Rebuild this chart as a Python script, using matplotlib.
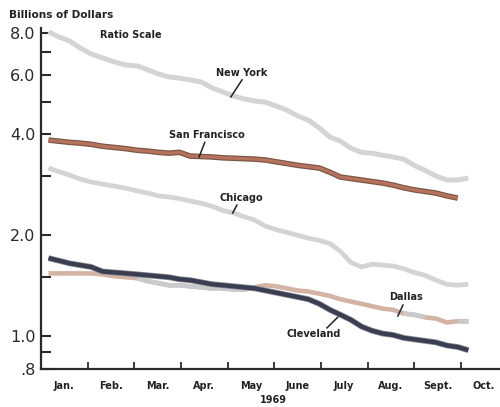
import numpy as np
import pandas as pd
import matplotlib
matplotlib.use("Agg")
import matplotlib.pyplot as plt
from matplotlib.ticker import FixedLocator, FixedFormatter, NullLocator

# weekly reporting dates, 1969
weeks = pd.date_range("1969-01-06", periods=40, freq="7D")

# billions of dollars, one value per week
new_york = [8.06, 7.78, 7.57, 7.22, 6.93, 6.74, 6.56, 6.42, 6.38, 6.21,
            6.04, 5.92, 5.87, 5.80, 5.72, 5.49, 5.34, 5.19, 5.09, 5.02,
            4.98, 4.85, 4.72, 4.53, 4.40, 4.17, 3.92, 3.81, 3.63, 3.53,
            3.51, 3.46, 3.42, 3.37, 3.23, 3.12, 3.00, 2.92, 2.92, 2.96]
san_francisco = [3.84, 3.81, 3.78, 3.76, 3.73, 3.68, 3.65, 3.62, 3.58, 3.56,
                 3.53, 3.51, 3.53, 3.44, 3.43, 3.42, 3.40, 3.39, 3.38, 3.37,
                 3.35, 3.31, 3.27, 3.23, 3.20, 3.17, 3.08, 2.98, 2.95, 2.92,
                 2.89, 2.86, 2.82, 2.77, 2.73, 2.70, 2.67, 2.62, 2.58]
chicago = [3.17, 3.09, 3.02, 2.94, 2.88, 2.84, 2.80, 2.76, 2.71, 2.67,
           2.62, 2.60, 2.57, 2.53, 2.49, 2.44, 2.37, 2.33, 2.27, 2.22,
           2.13, 2.08, 2.04, 2.00, 1.96, 1.93, 1.89, 1.79, 1.66, 1.61,
           1.64, 1.63, 1.62, 1.59, 1.55, 1.52, 1.47, 1.43, 1.42, 1.43]
cleveland = [1.71, 1.68, 1.65, 1.63, 1.61, 1.56, 1.55, 1.54, 1.53, 1.52,
             1.51, 1.50, 1.48, 1.47, 1.45, 1.43, 1.42, 1.41, 1.40, 1.39,
             1.37, 1.35, 1.33, 1.31, 1.29, 1.25, 1.20, 1.16, 1.12, 1.07,
             1.04, 1.02, 1.01, 0.99, 0.98, 0.97, 0.96, 0.94, 0.93, 0.91]
dallas = [1.54, 1.54, 1.54, 1.54, 1.54, 1.53, 1.51, 1.50, 1.49, 1.46,
          1.44, 1.42, 1.42, 1.41, 1.40, 1.39, 1.39, 1.38, 1.38, 1.40,
          1.42, 1.41, 1.39, 1.37, 1.36, 1.34, 1.32, 1.29, 1.27, 1.25,
          1.23, 1.21, 1.20, 1.17, 1.16, 1.14, 1.13, 1.10, 1.11, 1.11]

months = ["Jan.", "Feb.", "Mar.", "Apr.", "May", "June", "July", "Aug.",
          "Sept.", "Oct."]
y_ticks = [0.8, 0.9, 1.0, 1.5, 2.0, 3.0, 4.0, 5.0, 6.0, 7.0, 8.0]
y_tick_labels = [".8", "", "1.0", "", "2.0", "", "4.0", "", "6.0", "", "8.0"]

# position along the axis, in months from Jan. 1
xpos = np.asarray((weeks.month - 1) + (weeks.day - 1) / weeks.days_in_month,
                  dtype=float)

LABEL_FONT = dict(family=["DejaVu Sans"], fontweight="bold", fontsize=7,
                  color="#222222")
LINE = dict(solid_capstyle="butt", solid_joinstyle="round")

fig = plt.figure(figsize=(5, 4.07), dpi=100)
ax = fig.add_axes([0.082, 0.0934, 0.918, 0.838])
ax.set_yscale("log")
ax.set_xlim(0, 9.84)
ax.set_ylim(0.8, 8.28)

for side in ("top", "right"):
    ax.spines[side].set_visible(False)
for side in ("left", "bottom"):
    ax.spines[side].set_linewidth(1.6)
    ax.spines[side].set_color("#2a2a2a")

ax.yaxis.set_major_locator(FixedLocator(y_ticks))
ax.yaxis.set_major_formatter(FixedFormatter(y_tick_labels))
ax.yaxis.set_minor_locator(NullLocator())
ax.tick_params(axis="y", direction="in", length=7, width=1.5, pad=4,
               labelsize=11.5, colors="#2a2a2a")

ax.set_xticks(np.arange(1, 10))
ax.set_xticklabels([])
ax.set_xticks(np.arange(len(months)) + 0.5, minor=True)
ax.set_xticklabels(months, minor=True, fontsize=7, fontweight="bold")
ax.tick_params(axis="x", which="major", direction="in", length=5, width=1.3,
               colors="#2a2a2a")
ax.tick_params(axis="x", which="minor", length=0, pad=9, colors="#222222")

# Dallas: tan line with grey stretches where the print ran together
ax.plot(xpos, dallas, color="#d3b3a3", lw=3.3, **LINE)
dal = np.asarray(dallas)
for lo, hi in [(2.0, 4.75), (7.6, 8.3), (8.85, 9.3)]:
    m = (xpos >= lo) & (xpos <= hi)
    ax.plot(xpos[m], dal[m], color="#c8cacc", lw=3.3, **LINE)

ax.plot(xpos, new_york, color="#d4d4d4", lw=3.6, **LINE)
ax.plot(xpos, chicago, color="#d4d4d4", lw=3.4, **LINE)

sf_x = xpos[:len(san_francisco)]
ax.plot(sf_x, san_francisco, color="#7b5545", lw=4.0, **LINE)
ax.plot(sf_x, san_francisco, color="#b5735c", lw=2.3, **LINE)

ax.plot(xpos, cleveland, color="#8a8c96", lw=4.2, **LINE)
ax.plot(xpos, cleveland, color="#3b3e50", lw=3.1, **LINE)

# series names with short leader strokes
labels = [
    ("New York", (4.31, 6.08), [(4.31, 5.80), (4.07, 5.16)]),
    ("San Francisco", (3.56, 3.97), [(3.51, 3.78), (3.39, 3.42)]),
    ("Chicago", (4.29, 2.58), [(4.20, 2.46), (4.11, 2.33)]),
    ("Dallas", (7.82, 1.31), [(7.76, 1.24), (7.65, 1.15)]),
    ("Cleveland", (5.85, 1.02), [(6.13, 1.06), (6.36, 1.14)]),
]
for name, (tx, ty), leader in labels:
    ax.text(tx, ty, name, ha="center", va="center", **LABEL_FONT)
    (x0, y0), (x1, y1) = leader
    ax.plot([x0, x1], [y0, y1], color="#222222", lw=1.1)

header = dict(LABEL_FONT, fontsize=7.6)
fig.text(0.123, 0.962, "Billions of Dollars", ha="center", va="center",
         **header)
fig.text(0.262, 0.913, "Ratio Scale", ha="center", va="center", **LABEL_FONT)
fig.text(0.546, 0.004, "1969", ha="center", va="bottom", **LABEL_FONT)

fig.savefig("out.png", dpi=100, facecolor="white")
